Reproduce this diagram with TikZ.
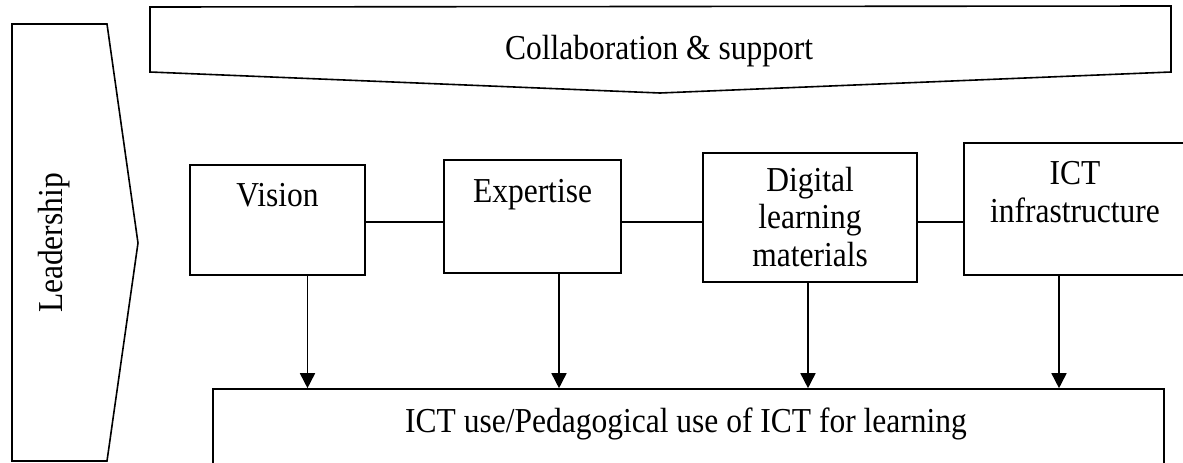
\documentclass[tikz,border=0pt]{standalone}
\usepackage{fontspec}
\setmainfont{Liberation Serif}[FakeStretch=0.9]
\usetikzlibrary{arrows.meta}
\tikzset{
  outline/.style={draw=black, line width=1.6pt, line join=miter},
  box/.style={draw=black, line width=1.6pt, inner sep=0pt},
  lbl/.style={inner sep=0pt, anchor=base, align=center, font=\fontsize{35}{37.5}\selectfont},
  link/.style={draw=black, line width=1.6pt},
  flow/.style={draw=black, line width=1.6pt, -{Triangle[length=15pt,width=15pt]}},
}
\begin{document}
\begin{tikzpicture}[x=1pt,y=-1pt]
\useasboundingbox (0,0) rectangle (1183,463);
\clip (0,0) rectangle (1183,463);
% Leadership chevron
\draw[outline] (12,24) -- (107,24) -- (138,243) -- (107,461) -- (12,461) -- cycle;
\node[lbl, rotate=90] (lead) at (62,243) {Leadership};
% Collaboration & support arrow
\draw[outline] (150,7) -- (1171,6) -- (1171,72) -- (660,93) -- (150,72) -- cycle;
\node[lbl] (collab) at (659,59) {Collaboration \& support};
% boxes
\node[box, minimum width=175pt, minimum height=110pt] (vision) at (277.5,220) {};
\node[box, minimum width=177pt, minimum height=113pt] (expert) at (532.5,216.5) {};
\node[box, minimum width=214pt, minimum height=129pt] (digital) at (810,217.5) {};
\node[box, minimum width=222pt, minimum height=132pt] (infra) at (1075,209) {};
\node[box, minimum width=951pt, minimum height=100pt] (use) at (688.5,439) {};
% texts
\node[lbl] (visiont) at (277.5,206) {Vision};
\node[lbl] (expertt) at (532.5,202) {Expertise};
\node[lbl] (digitalt) at (810,266) {Digital\\learning\\materials};
\node[lbl] (infrat) at (1075,222) {ICT\\infrastructure};
\node[lbl] (uset) at (686,432) {ICT use/Pedagogical use of ICT for learning};
% horizontal links
\coordinate (mid) at (0,222);
\draw[link] (vision.east |- mid) -- (expert.west |- mid);
\draw[link] (expert.east |- mid) -- (digital.west |- mid);
\draw[link] (digital.east |- mid) -- (infra.west |- mid);
% arrows down
\draw[flow] ([xshift=30pt]vision.south) -- ([xshift=30pt]vision.south |- use.north);
\draw[flow] ([xshift=26.5pt]expert.south) -- ([xshift=26.5pt]expert.south |- use.north);
\draw[flow] ([xshift=-2pt]digital.south) -- ([xshift=-2pt]digital.south |- use.north);
\draw[flow] ([xshift=-16pt]infra.south) -- ([xshift=-16pt]infra.south |- use.north);
\end{tikzpicture}
\end{document}
